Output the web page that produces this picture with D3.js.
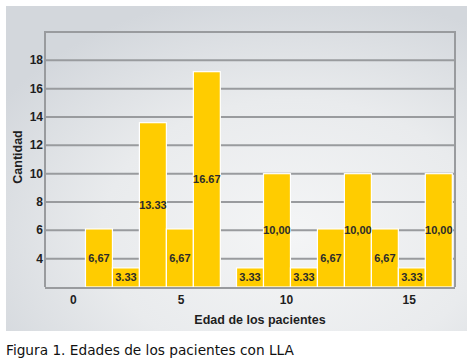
<!DOCTYPE html>
<html><head><meta charset="utf-8">
<script src="https://cdn.jsdelivr.net/npm/d3@7"></script>
<style>html,body{margin:0;padding:0;background:#fff;}svg{display:block;}</style>
</head><body>
<script>
// ---- data ----
const barAges   = [1, 2, 3, 4, 5, 6.6, 7.6, 8.6, 9.6, 10.6, 11.6, 12.6, 13.6];
const barValues = [6.1, 3.35, 13.6, 6.1, 17.2, 3.35, 10, 3.35, 6.1, 10, 6.1, 3.35, 10];
const barLabels = ["6,67","3.33","13.33","6,67","16.67","3.33","10,00","3.33","6,67","10,00","6,67","3.33","10,00"];
const yTicks    = [4, 6, 8, 10, 12, 14, 16, 18];
const xTickLabels = ["0", "5", "10", "15"];
const xTickAt     = [0.05, 4.05, 7.95, 12.5];
const title = "Figura 1. Edades de los pacientes con LLA";
const xTitle = "Edad de los pacientes";
const yTitle = "Cantidad";

const W = 471, H = 364;
const svg = d3.select("body").append("svg").attr("width", W).attr("height", H);

const defs = svg.append("defs");
const grad = defs.append("radialGradient").attr("id","bg")
  .attr("cx","0.62").attr("cy","0.7").attr("r","0.75");
grad.append("stop").attr("offset","0").attr("stop-color","#f4f5f6");
grad.append("stop").attr("offset","0.55").attr("stop-color","#e9ebed");
grad.append("stop").attr("offset","1").attr("stop-color","#d3d7dc");

svg.append("rect").attr("x",6).attr("y",6).attr("width",461).attr("height",325).attr("fill","url(#bg)");

const pL = 45, pR = 455, pT = 32, pB = 287;
const x = d3.scaleLinear().domain([-1, 14.2]).range([pL, pR]);
const y = d3.scaleLinear().domain([2, 20]).range([pB, pT]);
const unit = x(1) - x(0);

const grid = "#999b9e";
// gridlines
svg.append("g").selectAll("line").data(yTicks).join("line")
  .attr("x1", pL).attr("x2", pR)
  .attr("y1", d => y(d)).attr("y2", d => y(d))
  .attr("stroke", grid).attr("stroke-width", 2);
// frame
svg.append("path")
  .attr("d", `M${pL},${pB}V${y(20)}H${pR}V${pB}`)
  .attr("fill","none").attr("stroke", grid).attr("stroke-width", 2);

// bars
svg.append("g").selectAll("rect").data(barValues).join("rect")
  .attr("x", (d,i) => x(barAges[i]) - unit/2)
  .attr("width", unit)
  .attr("y", d => y(d))
  .attr("height", d => y(2) - y(d))
  .attr("fill", "#ffcc00")
  .attr("stroke", "#ffffff").attr("stroke-width", 1.2);

// baseline
svg.append("line").attr("x1", pL).attr("x2", pR)
  .attr("y1", y(2)+1).attr("y2", y(2)+1)
  .attr("stroke", grid).attr("stroke-width", 2);

// bar labels
svg.append("g").selectAll("text").data(barLabels).join("text")
  .attr("x", (d,i) => x(barAges[i]))
  .attr("y", (d,i) => (y(barValues[i]) + y(2)) / 2)
  .attr("text-anchor","middle").attr("dominant-baseline","central")
  .attr("font-family","'Liberation Sans Narrow', 'Liberation Sans', Arial, sans-serif")
  .attr("font-weight","bold").attr("font-size", 11)
  .attr("fill","#2b2b2b")
  .text(d => d);

// y tick labels
svg.append("g").selectAll("text").data(yTicks).join("text")
  .attr("x", 43).attr("y", d => y(d))
  .attr("text-anchor","end").attr("dominant-baseline","central")
  .attr("font-family","'Liberation Sans Narrow', 'Liberation Sans', Arial, sans-serif")
  .attr("font-weight","bold").attr("font-size", 12)
  .attr("fill","#1e1e1e")
  .text(d => d);

// x tick labels
svg.append("g").selectAll("text").data(xTickLabels).join("text")
  .attr("x", (d,i) => x(xTickAt[i])).attr("y", 300)
  .attr("text-anchor","middle").attr("dominant-baseline","central")
  .attr("font-family","'Liberation Sans Narrow', 'Liberation Sans', Arial, sans-serif")
  .attr("font-weight","bold").attr("font-size", 12)
  .attr("fill","#1e1e1e")
  .text(d => d);

// axis titles
svg.append("text").attr("x", 260).attr("y", 320)
  .attr("text-anchor","middle").attr("dominant-baseline","central")
  .attr("font-family","'Liberation Sans', Arial, sans-serif")
  .attr("font-weight","bold").attr("font-size", 12.5).attr("fill","#1e1e1e")
  .text(xTitle);
svg.append("text")
  .attr("transform","translate(18,157) rotate(-90)")
  .attr("text-anchor","middle").attr("dominant-baseline","central")
  .attr("font-family","'Liberation Sans', Arial, sans-serif")
  .attr("font-weight","bold").attr("font-size", 12.5).attr("fill","#1e1e1e")
  .text(yTitle);

// caption
svg.append("text").attr("x", 6).attr("y", 350)
  .attr("dominant-baseline","central")
  .attr("font-family","'DejaVu Sans', Verdana, sans-serif")
  .attr("font-size", 13.7).attr("fill","#111")
  .text(title);
</script>
</body></html>
